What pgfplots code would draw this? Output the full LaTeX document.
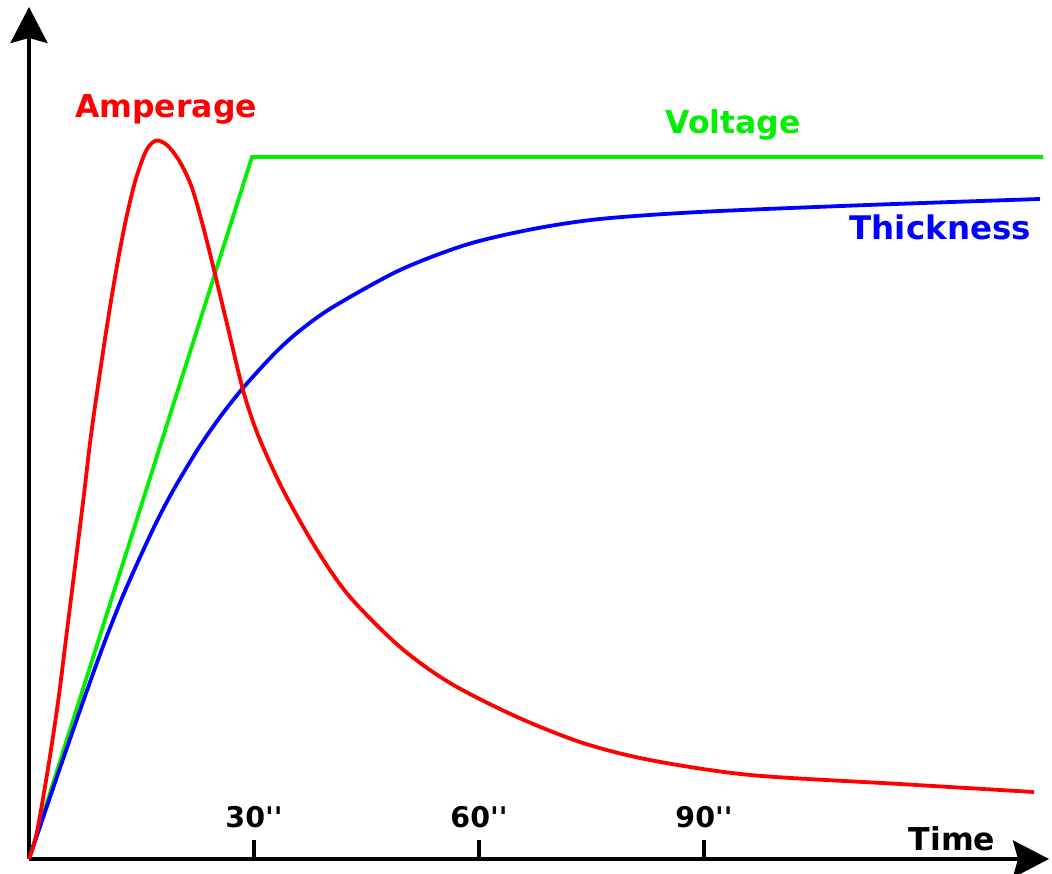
\documentclass[border=0pt]{standalone}
\usepackage{fontspec}
\setmainfont{DejaVu Sans}
\usepackage{pgfplots}
\pgfplotsset{compat=1.18}
\usetikzlibrary{arrows.meta}
\definecolor{cred}{RGB}{255,0,0}
\definecolor{cgreen}{RGB}{0,240,0}
\definecolor{cblue}{RGB}{0,0,255}
\newcommand{\secs}[1]{#1\textquotesingle\textquotesingle}
\begin{document}
\begin{tikzpicture}
\path[use as bounding box] (-29pt,-15pt) rectangle (1023pt,859pt);
\begin{axis}[
  at={(0pt,0pt)}, anchor=south west,
  scale only axis, width=1020pt, height=852pt,
  xmin=0, xmax=136, ymin=0, ymax=121.37,
  axis x line*=bottom, axis y line*=left,
  axis line style={line width=3.7pt, -{Stealth[length=36pt,width=37pt,inset=5pt]}},
  clip=false,
  xtick={30,60,90}, xticklabels={\secs{30},\secs{60},\secs{90}},
  ytick=\empty,
  tick align=inside,
  major tick length=19pt,
  every tick/.style={line width=3.4pt, black},
  xticklabel style={anchor=south, yshift=31pt, inner sep=0pt, font=\fontsize{28.5}{32}\selectfont\bfseries},
]
\addplot[cgreen, line width=3.8pt] coordinates {(0,0) (29.73,100) (135.2,100)};
\addplot[cblue, line width=3.8pt, smooth] coordinates {
(0,0) (2.13,6.70) (4.36,13.68) (7.47,23.22) (10.13,31.05) (12.8,38.18) (16.36,46.58)
(19.03,52.14) (22.53,58.40) (25.47,62.96) (28.53,67.09) (32.8,72.08) (36.13,75.28) (40.53,78.63)
(49.47,83.9) (58.4,87.54) (67.2,89.74) (76.13,91.17) (89.47,92.17) (111.73,93.16) (134.8,94.02)};
\addplot[cred, line width=3.8pt, smooth] coordinates {
(0,0) (1.03,3.70) (2.57,13.11) (3.91,22.65) (5.03,32.19) (6.13,41.60) (7.24,51.14)
(8.36,61.11) (10.13,74.07) (11.47,82.91) (12.8,90.46) (14.13,96.44) (15.47,100.57)
(16.4,102.0) (17.24,102.35) (18.53,101.57) (20.13,99.29) (21.69,95.73) (23.2,90.17) (24.8,83.33)
(26.53,75.64) (28.53,66.81) (30.53,60.4) (33.87,52.56) (38.4,44.02) (42.8,37.32)
(49.47,30.2) (56.13,25.07) (65.07,20.23) (73.87,16.52) (82.8,14.1) (96.13,11.97)
(116.13,10.68) (134.0,9.54)};
\node[anchor=base, text=cred, font=\fontsize{31.5}{36}\selectfont\bfseries, inner sep=0pt] at (axis cs:18.27,105.56) {Amperage};
\node[anchor=base, text=cgreen, font=\fontsize{31.5}{36}\selectfont\bfseries, inner sep=0pt] at (axis cs:93.87,103.28) {Voltage};
\node[anchor=base, text=cblue, font=\fontsize{32.5}{36}\selectfont\bfseries, inner sep=0pt] at (axis cs:121.5,88.18) {Thickness};
\node[anchor=base, text=black, font=\fontsize{31.5}{36}\selectfont\bfseries, inner sep=0pt] at (axis cs:123.07,1.28) {Time};
\end{axis}
\end{tikzpicture}
\end{document}
